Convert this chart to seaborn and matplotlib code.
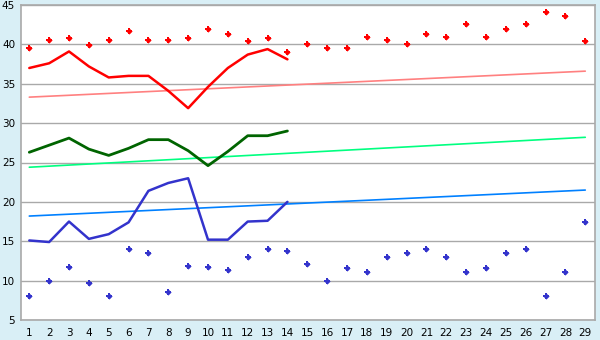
import matplotlib
matplotlib.use("Agg")
import matplotlib.pyplot as plt
import seaborn as sns
import pandas as pd
import numpy as np

days = list(range(1, 30))
line_days = list(range(1, 15))

max_points = [39.6, 40.5, 40.8, 39.9, 40.6, 41.7, 40.6, 40.5, 40.8, 42.0,
              41.3, 40.4, 40.8, 39.0, 40.0, 39.5, 39.6, 41.0, 40.5, 40.0,
              41.3, 41.0, 42.6, 41.0, 42.0, 42.6, 44.1, 43.6, 40.4]
min_points = [8.0, 10.0, 11.7, 9.7, 8.1, 14.0, 13.5, 8.6, 11.8, 11.7,
              11.4, 13.0, 14.0, 13.8, 12.1, 10.0, 11.6, 11.1, 13.0, 13.5,
              14.0, 13.0, 11.1, 11.6, 13.5, 14.0, 8.0, 11.1, 17.5]
max_line = [37.0, 37.6, 39.1, 37.2, 35.8, 36.0, 36.0, 34.1, 31.9, 34.6,
            37.0, 38.7, 39.4, 38.1]
avg_line = [26.3, 27.2, 28.1, 26.7, 25.9, 26.8, 27.9, 27.9, 26.5, 24.6,
            26.4, 28.4, 28.4, 29.0]
min_line = [15.1, 14.9, 17.5, 15.3, 15.9, 17.4, 21.4, 22.4, 23.0, 15.2,
            15.2, 17.5, 17.6, 20.0]
trend_days = [1, 29]
max_trend = [33.3, 36.6]
avg_trend = [24.4, 28.2]
min_trend = [18.2, 21.5]
y_ticks = [5, 10, 15, 20, 25, 30, 35, 40, 45]

sns.set_style("white")
bg = "#d9eff6"
grid_c = "#a9a9a9"

fig = plt.figure(figsize=(6, 3.4), dpi=100, facecolor=bg)
ax = fig.add_axes([20.7 / 600, 20 / 340, (595 - 20.7) / 600, 315 / 340])
ax.set_facecolor("white")

for yv in y_ticks:
    ax.axhline(yv, color=grid_c, lw=1.0, zorder=0)

sns.lineplot(x=trend_days, y=max_trend, ax=ax, color="#ff8080", lw=1.2)
sns.lineplot(x=trend_days, y=avg_trend, ax=ax, color="#00ff80", lw=1.2)
sns.lineplot(x=trend_days, y=min_trend, ax=ax, color="#0080ff", lw=1.2)

sns.lineplot(x=line_days, y=max_line, ax=ax, color="#ff0000", lw=1.8)
sns.lineplot(x=line_days, y=avg_line, ax=ax, color="#006400", lw=2.0)
sns.lineplot(x=line_days, y=min_line, ax=ax, color="#3333cc", lw=1.8)

for pts, col in ((max_points, "#ff0000"), (min_points, "#3333cc")):
    sns.scatterplot(x=days, y=pts, ax=ax, color=col, marker="D",
                    s=10, linewidth=0, zorder=5)
    sns.scatterplot(x=days, y=pts, ax=ax, color=col, marker="P",
                    s=24, linewidth=0, zorder=5)

ax.set_xlim(0.567, 29.49)
ax.set_ylim(5, 45)
ax.set_xticks(days)
ax.set_xticklabels([str(d) for d in days])
ax.set_yticks(y_ticks)
ax.set_yticklabels([str(v) for v in y_ticks])
ax.tick_params(axis="both", labelsize=7.5, colors="#000000", length=4,
               width=1, pad=2, direction="out")
ax.tick_params(axis="y", length=3, pad=1)
ax.tick_params(axis="x", length=5, pad=1)
for t in ax.get_xticklines() + ax.get_yticklines():
    t.set_color("#000000")
for sp in ax.spines.values():
    sp.set_visible(True)
    sp.set_color(grid_c)
    sp.set_linewidth(1.2)

fig.savefig("out.png", dpi=100, facecolor=bg)
